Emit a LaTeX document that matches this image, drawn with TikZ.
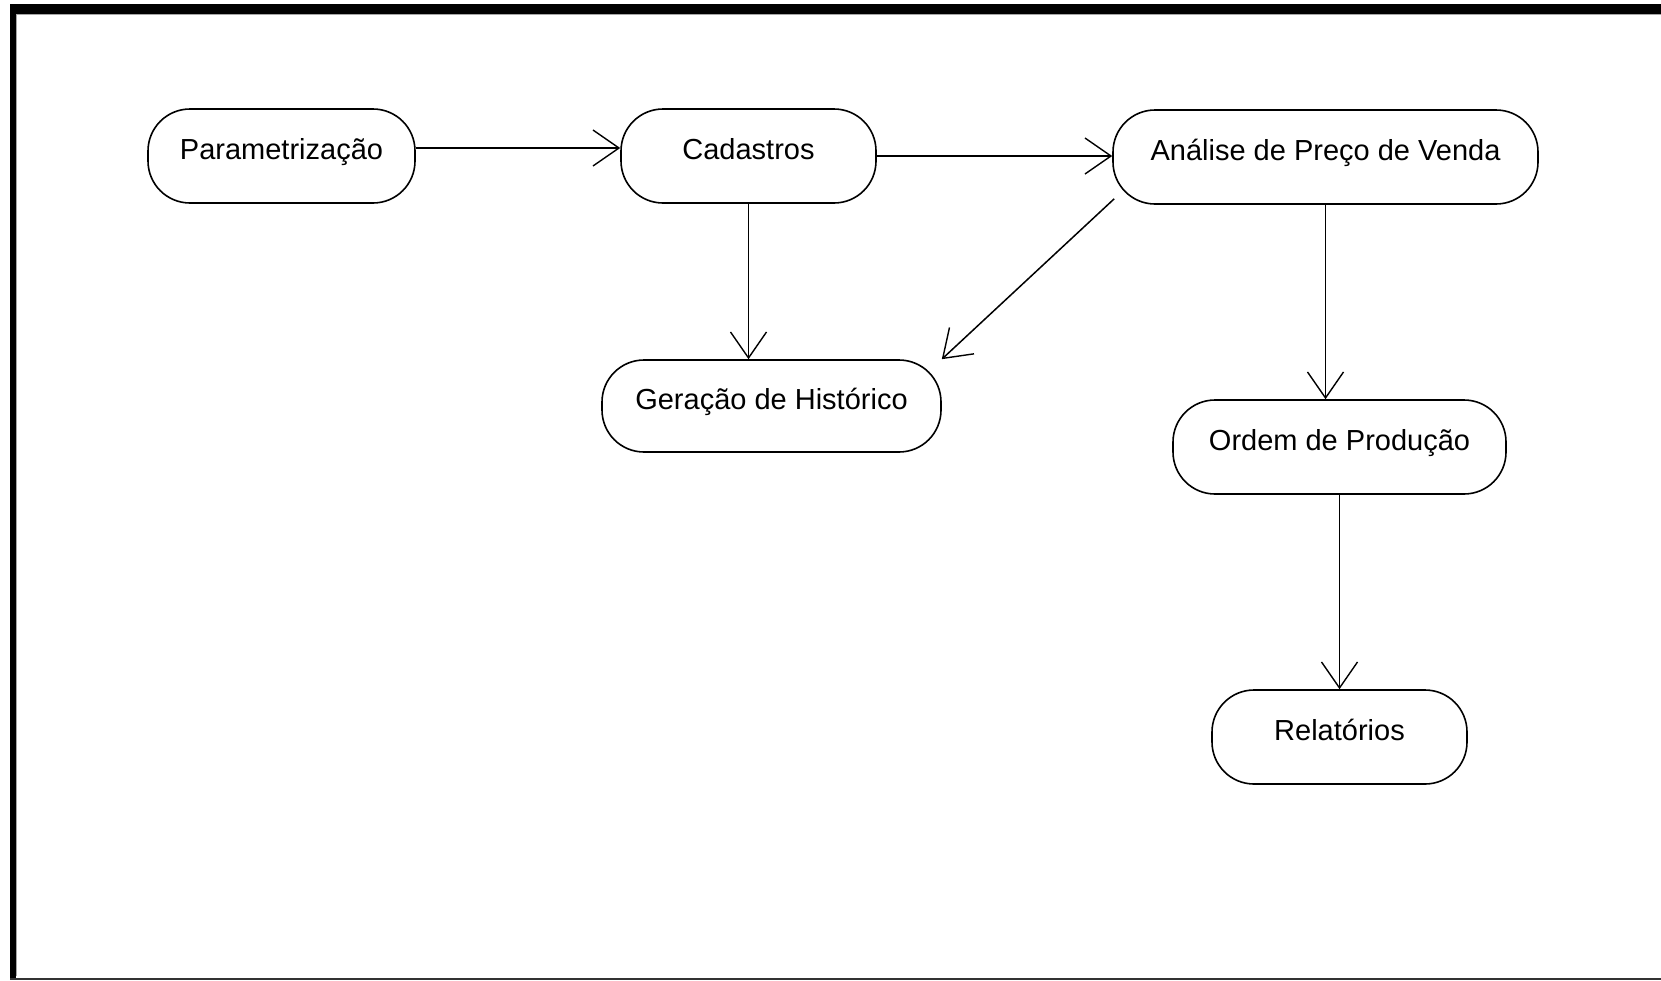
\documentclass[tikz,border=0pt]{standalone}
\usepackage{fontspec}
\setmainfont{Liberation Sans}
\usetikzlibrary{arrows.meta}
\begin{document}
\begin{tikzpicture}[x=1pt,y=-1pt,
  act/.style={draw=black, line width=1.6pt, rounded corners=42pt, fill=white,
    inner sep=0pt, minimum height=94pt, text height=21pt, text depth=15pt,
    font=\fontsize{29}{30}\selectfont},
  flow/.style={line width=1.5pt, -{Straight Barb[length=26pt,width=36pt,line width=1.4pt]}}]
\useasboundingbox (0,0) rectangle (1661,980);
\fill[white] (0,0) rectangle (1661,980);
% frame
\fill[black] (10,4) rectangle (1661,13.5);
\fill[black] (10,4) rectangle (15.5,980);
\fill[black!80] (10,977.5) rectangle (1661,980);
\draw[black!35, line width=1pt] (16,14.5) -- (1661,14.5);
\draw[black!35, line width=1pt] (16.5,14.5) -- (16.5,976);
% nodes
\node[act, minimum width=267pt] (P) at (281.5,156) {Parametrização};
\node[act, minimum width=255pt] (C) at (748.5,156) {Cadastros};
\node[act, minimum width=425pt] (A) at (1325.5,157) {Análise de Preço de Venda};
\node[act, minimum width=339pt, minimum height=92pt] (G) at (771.5,406) {Geração de Histórico};
\node[act, minimum width=333pt] (O) at (1339.5,447) {Ordem de Produção};
\node[act, minimum width=255pt] (R) at (1339.5,737) {Relatórios};
% connectors
\draw[flow] ([yshift=8pt]P.east) -- ([yshift=8pt]C.west);
\draw[flow] (C.east) -- (C.east -| A.west);
\draw[flow] (C.south) -- (C.south |- G.north);
\draw[flow] ([xshift=2pt,yshift=6pt]A.south west) -- (G.north east);
\draw[flow] (A.south) -- (A.south |- O.north);
\draw[flow] (O.south) -- (R.north);
\end{tikzpicture}
\end{document}
